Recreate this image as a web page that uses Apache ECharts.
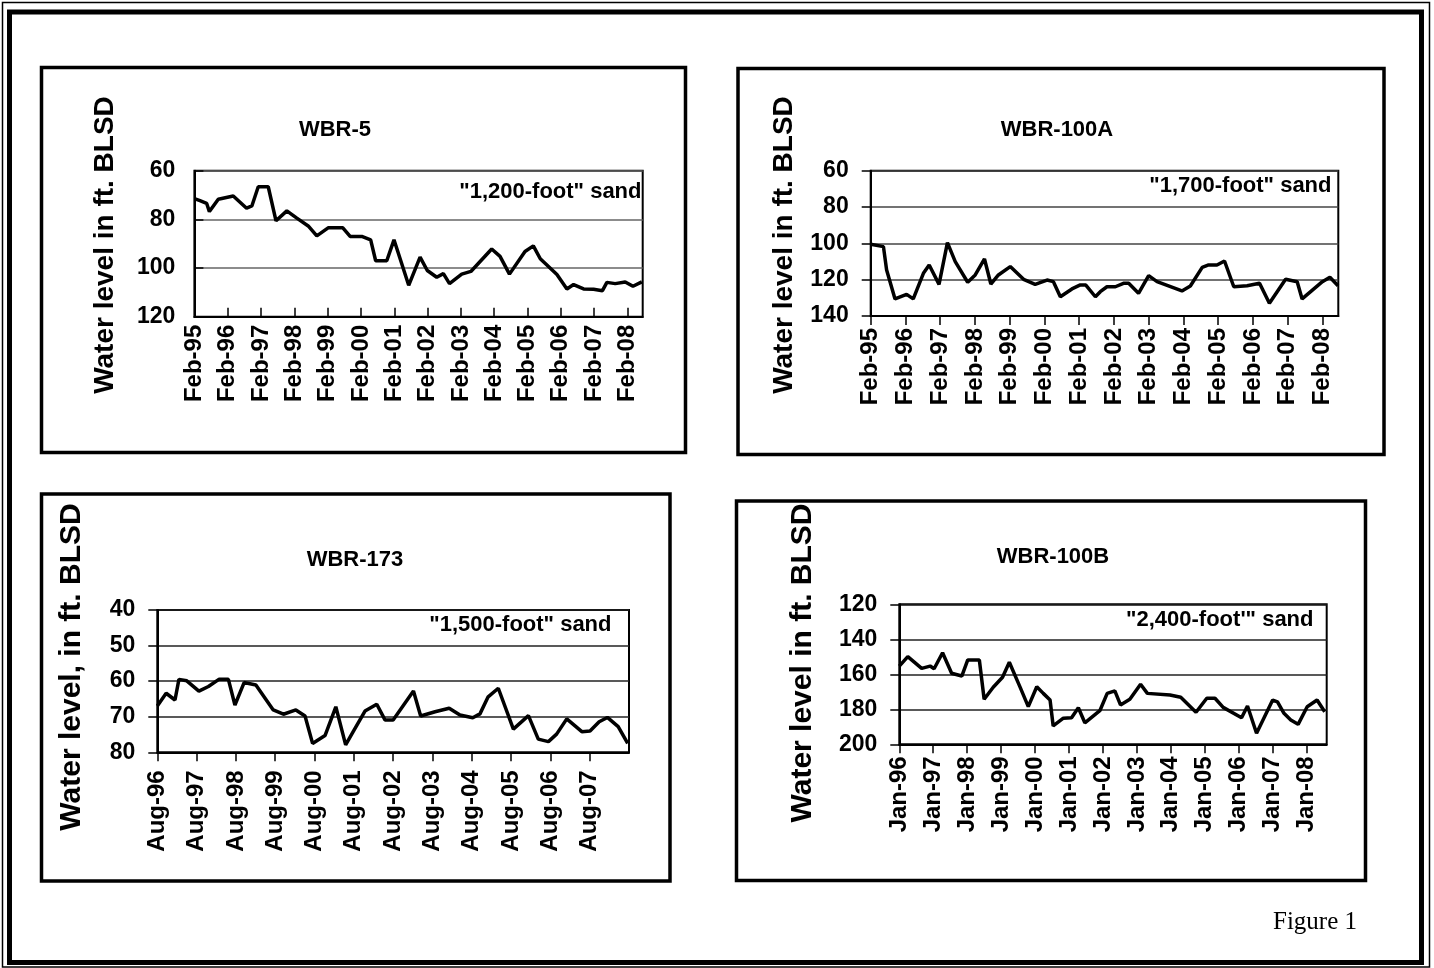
<!DOCTYPE html>
<html>
<head>
<meta charset="utf-8">
<script src="https://cdn.jsdelivr.net/npm/echarts@6/dist/echarts.min.js"></script>
<style>
html,body{margin:0;padding:0;background:#fff;}
#c{width:1434px;height:968px;}
</style>
</head>
<body>
<div id="c"></div>
<script>
// ---- data (x = months after first labelled tick) ----
const wbr5Ticks = ['Feb-95','Feb-96','Feb-97','Feb-98','Feb-99','Feb-00','Feb-01','Feb-02','Feb-03','Feb-04','Feb-05','Feb-06','Feb-07','Feb-08'];
const wbr5Month = [0,2,4.4,5.4,8.6,14,14.6,18.8,20.7,23,26.6,29.4,33.3,36.9,41,44.1,48.3,53.4,56.1,60.3,63.5,65.3,69.3,71.9,77.2,81.3,83.9,87.3,89.7,91.9,96.3,99.6,107.1,110.1,113.5,119.1,122.1,124.6,130.6,134.2,136.6,140.2,143.8,147,148.6,151.6,155.2,158,161.2];
const wbr5Level = [71.5,72.3,73.4,76.8,71.7,70.4,70.4,75.4,74.5,66.6,66.6,80.6,76.5,79.5,82.7,86.8,83.4,83.4,87,87,88.4,97,97,88.4,107.1,95.5,101,103.8,102.3,106.4,102.5,101.4,92.2,95.2,102.5,93.2,90.9,96.2,102.7,108.6,106.8,108.6,108.7,109.3,105.9,106.4,105.7,107.5,105.7];

const wbr100aTicks = ['Feb-95','Feb-96','Feb-97','Feb-98','Feb-99','Feb-00','Feb-01','Feb-02','Feb-03','Feb-04','Feb-05','Feb-06','Feb-07','Feb-08'];
const wbr100aMonth = [0,4.4,5.5,8.4,12.4,14.7,18.2,20.2,23.6,26.5,29.2,33.5,36.1,39.3,41.5,44.1,48.2,52.8,56.8,60.9,63.1,65.5,69.5,72.4,74.3,77.6,79.3,81.6,84.5,87.3,89.1,92.5,96,98.9,107.5,110.4,114.5,116.7,119.6,122.2,125.4,130,134.3,137.7,143.3,147.3,149,156,158.6,161.4];
const wbr100aLevel = [100.5,101.8,114.7,130.6,128.1,130.6,116.5,111.9,122.6,99.6,110.1,121.4,117.4,108.6,122.4,117.4,112.8,119.8,122.6,120.2,121.1,129.4,125.1,122.9,123,129.4,126.6,123.9,123.9,122,122,127.5,117.8,121.1,126.2,123.5,113.2,111.9,111.9,109.7,123.9,123.3,122,133,119.8,121.1,130.6,121.1,118.7,123.3];

const wbr173Ticks = ['Aug-96','Aug-97','Aug-98','Aug-99','Aug-00','Aug-01','Aug-02','Aug-03','Aug-04','Aug-05','Aug-06','Aug-07'];
const wbr173Month = [0,2.7,5.4,6.6,9,12.7,15.6,18.8,21.7,23.7,26.5,30.1,32.9,35.4,38.5,42.3,45.1,47.4,51.2,54.5,57.5,59.8,63.4,67,69.5,72,78.2,80.4,84.8,89.1,92.4,96.3,98.5,101,104.1,108.7,113.3,116.3,119.4,121.9,125,129.6,132.1,134.9,137.4,140.7,143.6];
const wbr173Level = [67,63.4,65.3,59.5,59.9,62.8,61.5,59.5,59.5,66.7,60.4,61.1,64.8,68.1,69.3,68.1,69.8,77.5,75.3,67.2,77.9,74.2,68.4,66.5,70.9,70.9,62.8,69.8,68.6,67.6,69.5,70.3,69.2,64.4,62,73.5,69.7,76.3,77,74.9,70.6,74.2,74,71.4,70.2,72.8,77.5];

const wbr100bTicks = ['Jan-96','Jan-97','Jan-98','Jan-99','Jan-00','Jan-01','Jan-02','Jan-03','Jan-04','Jan-05','Jan-06','Jan-07','Jan-08'];
const wbr100bMonth = [0,3,7.9,10.9,12.3,15.3,18.5,22.1,24.2,28.3,30,33.2,36.5,38.9,42.7,45.6,48.6,50.9,53.3,54.4,58,60.9,63.3,65.6,70.9,73.5,76.2,78.2,81.5,85.3,87.7,95.7,99.5,104.9,108.7,111.6,114.5,121,123.1,126.3,132,133.7,136,138.4,141,144.2,147.7,150.4];
const wbr100bLevel = [155.3,149.9,156.6,155.3,156.8,147.7,159.4,161,151.8,151.8,174.3,167.4,161.7,153.1,167.3,178.5,167.1,170.9,174.7,189.5,185.1,184.8,179.1,187.7,180.8,170.9,169.5,177.5,174.3,165.7,170.9,171.8,173.1,181.7,173.7,173.7,178.9,184.8,178.1,193.7,174.7,175.7,182.3,186.1,188.6,178.5,174.7,181.4];

const titles = ['WBR-5','WBR-100A','WBR-173','WBR-100B'];
const sands = ['"1,200-foot" sand','"1,700-foot" sand','"1,500-foot" sand','"2,400-foot\'" sand'];
const yNames = ['Water level in ft. BLSD','Water level in ft. BLSD','Water level, in ft. BLSD','Water level in ft. BLSD'];

// ---- chart ----
const FF = '"Liberation Sans", Arial, sans-serif';
const zip = (a,b) => a.map((v,i)=>[v,b[i]]);

const grids = [
  {left:194.4, top:170.7, width:448.3, height:146},
  {left:870.7, top:170.7, width:467.6, height:145.3},
  {left:157.3, top:610,   width:471.7, height:142.3},
  {left:899.3, top:604.3, width:427.4, height:140}
].map(g => Object.assign(g, {show:true, borderColor:'#000', borderWidth:2, backgroundColor:'transparent'}));

function xAx(gi, max, ticks, inside, margin){
  return {type:'value', gridIndex:gi, min:0, max:max, interval:12,
    axisLine:{show:true, onZero:false, lineStyle:{color:'#000', width:2}},
    axisTick:{show:true, inside:inside, length:9, lineStyle:{color:'#000', width:1.5}},
    splitLine:{show:false},
    axisLabel:{rotate:90, margin:margin, showMaxLabel:false, color:'#000', fontSize:24, fontWeight:'bold', fontFamily:FF,
      formatter: v => (Math.abs(v/12 - Math.round(v/12))<1e-6 ? (ticks[Math.round(v/12)]||'') : '')}
  };
}
function yAx(gi, min, max, interval, inside, gridColor, margin){
  return {type:'value', gridIndex:gi, min:min, max:max, interval:interval, inverse:true,
    axisLine:{show:true, onZero:false, lineStyle:{color:'#000', width:2}},
    axisTick:{show:true, inside:inside, length:9, lineStyle:{color:'#000', width:1.5}},
    splitLine:{show:true, lineStyle:{color:gridColor, width:1.5}},
    axisLabel:{margin:margin, color:'#000', fontSize:23, fontWeight:'bold', fontFamily:FF}
  };
}

const xAxes = [
  xAx(0, 161.5, wbr5Ticks, true, 8),
  xAx(1, 161.5, wbr100aTicks, false, 12),
  xAx(2, 144, wbr173Ticks, false, 18),
  xAx(3, 151.1, wbr100bTicks, false, 12)
];
const yAxes = [
  yAx(0, 60, 120, 20, true, '#666', 19),
  yAx(1, 60, 140, 20, false, '#444', 22),
  yAx(2, 40, 80, 10, false, '#222', 22),
  yAx(3, 120, 200, 20, false, '#222', 22)
];

const lineSeries = (i, m, l) => ({type:'line', xAxisIndex:i, yAxisIndex:i, data:zip(m,l), showSymbol:false, symbol:'none',
  lineStyle:{color:'#000', width:3.5}, itemStyle:{color:'#000'}, animation:false, z:5});

const series = [
  lineSeries(0, wbr5Month, wbr5Level),
  lineSeries(1, wbr100aMonth, wbr100aLevel),
  lineSeries(2, wbr173Month, wbr173Level),
  lineSeries(3, wbr100bMonth, wbr100bLevel)
];

const rect = (x,y,w,h,lw) => ({type:'rect', silent:true, shape:{x:x,y:y,width:w,height:h}, style:{fill:'none', stroke:'#000', lineWidth:lw}, z:1});
const txt = (x,y,t,size,align,fam,weight,rot) => ({type:'text', silent:true, x:x, y:y, z:10, rotation:rot||0,
  style:{text:t, fill:'#000', font: (weight||'bold') + ' ' + size + 'px ' + (fam||FF), align:align, verticalAlign:'middle'}});

const graphic = [
  rect(2.5, 2.5, 1427, 964.5, 1.5),
  rect(9.5, 12, 1412, 950.5, 5),
  rect(41.5, 67.5, 644, 385, 3.5),
  rect(738, 68.5, 646, 386, 3.5),
  rect(41.5, 494, 628.5, 387, 3.5),
  rect(736.5, 501, 629, 379.5, 3.5),
  txt(335, 130, titles[0], 22, 'center'),
  txt(1057, 130, titles[1], 22, 'center'),
  txt(355, 560, titles[2], 22, 'center'),
  txt(1053, 557, titles[3], 22, 'center'),
  txt(641.5, 191.5, sands[0], 22, 'right'),
  txt(1331.5, 186, sands[1], 22, 'right'),
  txt(611.5, 625, sands[2], 22, 'right'),
  txt(1313.5, 619.5, sands[3], 22, 'right'),
  txt(105, 245, yNames[0], 28, 'center', null, 'bold', Math.PI/2),
  txt(784, 245, yNames[1], 28, 'center', null, 'bold', Math.PI/2),
  txt(72, 667, yNames[2], 30, 'center', null, 'bold', Math.PI/2),
  txt(803, 663, yNames[3], 30, 'center', null, 'bold', Math.PI/2),
  txt(1273, 922, 'Figure 1', 25, 'left', '"Liberation Serif", "Times New Roman", serif', 'normal')
];

const chart = echarts.init(document.getElementById('c'), null, {renderer:'canvas'});
chart.setOption({
  animation:false,
  backgroundColor:'#fff',
  grid:grids, xAxis:xAxes, yAxis:yAxes, series:series, graphic:graphic
});
</script>
</body>
</html>
